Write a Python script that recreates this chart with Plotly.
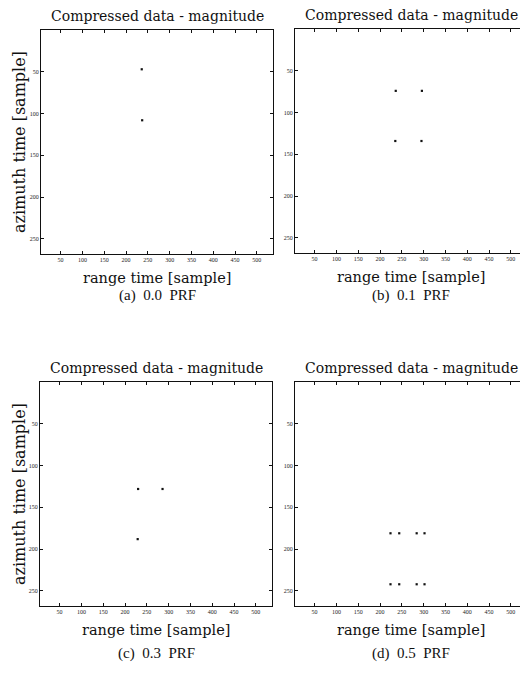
import plotly.graph_objects as go

# ---- data ----
panel_titles = ["Compressed data - magnitude"] * 4
captions = ["(a)  0.0  PRF", "(b)  0.1  PRF", "(c)  0.3  PRF", "(d)  0.5  PRF"]
x_ticks = [50, 100, 150, 200, 250, 300, 350, 400, 450, 500]
y_ticks = [50, 100, 150, 200, 250]

pts_a_x = [236, 237]
pts_a_y = [47, 108]
pts_b_x = [236, 296, 235, 295]
pts_b_y = [74, 74, 134, 134]
pts_c_x = [230, 286, 229]
pts_c_y = [128, 128, 188]
pts_d_x = [224, 244, 284, 302, 224, 244, 284, 302]
pts_d_y = [181, 181, 181, 181, 242, 242, 242, 242]

x_range = [5, 537]
y_range = [268, 0]

# the page body has an 8px margin: figure is drawn at page offset (8, 8)
OFF = 8
W, H = 528 - OFF, 684 - OFF
panels = [
    # page pixels: (x0, x1, y_top, y_bot, caption_offset)
    (41, 273, 30, 254, 41),
    (295, 527, 29, 253, 42),
    (40, 272, 382, 606, 47),
    (295, 527, 382, 606, 47),
]
series = [(pts_a_x, pts_a_y), (pts_b_x, pts_b_y), (pts_c_x, pts_c_y), (pts_d_x, pts_d_y)]


def px(x):
    return (x - OFF) / W


def py(y):
    return 1 - (y - OFF) / H


fig = go.Figure()
serif = "DejaVu Serif"
tick_font = dict(family="Liberation Serif", size=6, color="#222")

for i, ((x0, x1, yt, yb, cap), (sx, sy)) in enumerate(zip(panels, series)):
    n = i + 1
    xa = "x" if n == 1 else f"x{n}"
    ya = "y" if n == 1 else f"y{n}"
    fig.add_trace(go.Scatter(
        x=sx, y=sy, mode="markers", xaxis=xa, yaxis=ya,
        marker=dict(symbol="square", size=2.2, color="#111"),
        showlegend=False, hoverinfo="skip"))
    axis_common = dict(showline=True, linecolor="#111", linewidth=1, mirror="ticks",
                       ticks="inside", ticklen=3, tickcolor="#111", showgrid=False,
                       zeroline=False, tickfont=tick_font)
    fig.layout[f"xaxis{'' if n == 1 else n}"] = dict(
        domain=[px(x0), min(px(x1), 1)], range=x_range, anchor=ya,
        tickvals=x_ticks, **axis_common)
    fig.layout[f"yaxis{'' if n == 1 else n}"] = dict(
        domain=[py(yb), py(yt)], range=y_range, anchor=xa,
        tickvals=y_ticks, **axis_common)
    cx = px((x0 + x1) / 2)
    ann = dict(xref="paper", yref="paper", showarrow=False,
               xanchor="center", yanchor="middle")
    # panel title
    fig.add_annotation(text=panel_titles[i], x=cx, y=py(yt - 14),
                       font=dict(family=serif, size=14, color="#111"), **ann)
    # x-axis title
    fig.add_annotation(text="range time [sample]", x=cx, y=py(yb + 24),
                       font=dict(family=serif, size=14.5, color="#111"), **ann)
    # caption
    fig.add_annotation(text=captions[i], x=cx, y=py(yb + cap),
                       font=dict(family="Liberation Serif", size=15, color="#111"), **ann)
    if n in (1, 3):
        fig.add_annotation(text="azimuth time [sample]", x=px(19),
                           y=py((yt + yb) / 2), textangle=-90,
                           font=dict(family=serif, size=16, color="#111"), **ann)

fig.update_layout(width=W, height=H, margin=dict(l=0, r=0, t=0, b=0),
                  paper_bgcolor="white", plot_bgcolor="white")
fig.write_html("out.html")
